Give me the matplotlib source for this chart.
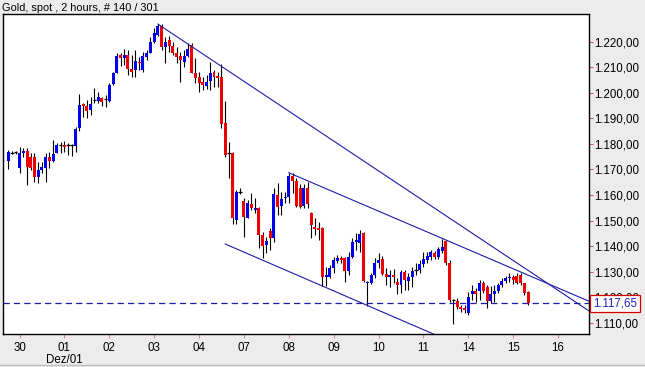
import matplotlib
matplotlib.use('Agg')
import matplotlib.pyplot as plt
from matplotlib.lines import Line2D

plt.rcParams['font.family'] = ['Liberation Sans', 'DejaVu Sans']

# 2h candles, Gold spot (140 bars visible)
opens = [1173.4, 1176.6, 1176.8, 1170.4, 1176.3, 1177.2, 1174.7, 1174.7, 1167.2, 1169.8,
         1170.4, 1174.7, 1173.4, 1176.3, 1179.5, 1179.6, 1179.4, 1179.4, 1179.2, 1186.1,
         1195.6, 1194.8, 1193.3, 1197.3, 1196.9, 1197.8, 1197.4, 1196.9, 1203.4, 1207.9,
         1214.8, 1213.5, 1214.8, 1209.3, 1208.9, 1212.2, 1208.9, 1214.1, 1215.7, 1220.0,
         1222.6, 1226.1, 1217.8, 1220.7, 1218.3, 1215.7, 1214.4, 1212.2, 1214.4, 1218.7,
         1207.6, 1206.1, 1204.3, 1202.7, 1204.7, 1208.3, 1206.6, 1206.1, 1188.2, 1176.6,
         1176.3, 1150.2, 1161.3, 1157.8, 1151.1, 1156.3, 1154.1, 1155.0, 1144.3, 1140.4,
         1145.9, 1143.0, 1160.0, 1155.7, 1158.7, 1159.3, 1167.4, 1165.6, 1162.6, 1155.7,
         1162.6, 1152.8, 1147.6, 1147.0, 1147.0, 1127.8, 1127.8, 1131.3, 1134.3, 1135.4,
         1135.2, 1130.4, 1135.8, 1141.7, 1141.1, 1145.2, 1125.6, 1125.4, 1128.7, 1133.5,
         1134.8, 1129.1, 1127.8, 1128.7, 1126.0, 1124.8, 1130.0, 1126.4, 1127.8, 1130.5,
         1130.6, 1133.0, 1134.5, 1135.6, 1137.4, 1135.6, 1138.2, 1142.1, 1133.5, 1118.9,
         1118.6, 1116.0, 1115.9, 1113.8, 1121.2, 1122.5, 1122.5, 1125.7, 1123.9, 1118.6,
         1121.2, 1122.5, 1124.8, 1126.4, 1127.4, 1127.8, 1128.3, 1128.7, 1125.4, 1122.1]
highs = [1177.6, 1177.2, 1177.4, 1178.9, 1178.4, 1178.4, 1176.3, 1176.4, 1173.0, 1173.0,
         1176.3, 1177.0, 1181.5, 1180.5, 1180.9, 1181.1, 1180.2, 1180.0, 1186.7, 1199.4,
         1195.9, 1197.2, 1198.5, 1201.8, 1200.4, 1198.5, 1199.1, 1203.7, 1208.3, 1215.7,
         1215.7, 1217.0, 1216.8, 1214.8, 1216.8, 1213.9, 1216.1, 1216.8, 1222.0, 1225.2,
         1226.9, 1226.9, 1222.0, 1222.2, 1220.0, 1218.0, 1216.1, 1216.8, 1219.4, 1219.4,
         1213.5, 1208.3, 1206.3, 1207.0, 1212.2, 1208.9, 1208.3, 1211.3, 1196.8, 1180.9,
         1176.8, 1162.0, 1162.7, 1158.7, 1158.0, 1160.9, 1158.7, 1155.4, 1145.6, 1143.7,
         1146.9, 1162.6, 1164.6, 1161.3, 1161.3, 1168.7, 1168.7, 1166.5, 1164.3, 1164.3,
         1165.1, 1153.4, 1150.9, 1149.4, 1147.6, 1131.9, 1132.6, 1135.8, 1136.5, 1136.1,
         1135.8, 1137.8, 1143.0, 1145.0, 1146.3, 1145.6, 1126.5, 1129.3, 1135.2, 1137.2,
         1136.1, 1131.3, 1130.6, 1130.9, 1127.4, 1130.6, 1130.6, 1129.3, 1131.9, 1133.3,
         1134.5, 1137.8, 1137.8, 1138.5, 1138.2, 1139.8, 1142.6, 1142.4, 1134.5, 1119.2,
         1119.5, 1116.9, 1116.9, 1122.1, 1124.8, 1123.5, 1126.7, 1126.4, 1124.8, 1124.4,
         1124.8, 1125.4, 1127.4, 1128.3, 1129.3, 1128.7, 1129.3, 1129.6, 1125.7, 1122.5]
lows = [1170.2, 1176.2, 1176.0, 1168.5, 1175.0, 1163.9, 1169.8, 1165.2, 1164.8, 1168.5,
        1165.2, 1170.4, 1173.0, 1176.3, 1176.3, 1176.7, 1175.6, 1175.3, 1177.0, 1185.0,
        1190.6, 1190.0, 1191.3, 1196.1, 1195.9, 1194.8, 1194.6, 1196.5, 1203.0, 1207.6,
        1210.5, 1210.9, 1207.0, 1206.1, 1206.3, 1208.9, 1208.3, 1212.8, 1215.5, 1219.4,
        1222.2, 1216.8, 1211.5, 1216.1, 1214.8, 1211.5, 1204.3, 1210.2, 1214.0, 1207.6,
        1203.7, 1200.4, 1201.1, 1201.4, 1201.1, 1202.2, 1202.2, 1186.1, 1174.9, 1166.5,
        1148.6, 1148.6, 1160.4, 1143.7, 1150.9, 1154.1, 1152.8, 1139.1, 1135.2, 1137.2,
        1138.5, 1141.7, 1152.2, 1152.2, 1156.7, 1156.7, 1160.7, 1155.4, 1155.0, 1155.0,
        1155.0, 1143.0, 1144.3, 1142.4, 1124.4, 1124.4, 1127.4, 1129.3, 1133.3, 1133.4,
        1126.0, 1128.7, 1135.2, 1138.5, 1137.8, 1126.0, 1116.5, 1125.2, 1127.4, 1131.3,
        1128.7, 1124.8, 1124.1, 1125.4, 1121.2, 1121.7, 1122.8, 1122.8, 1124.1, 1128.7,
        1129.3, 1131.9, 1133.3, 1134.5, 1134.8, 1134.8, 1137.4, 1132.6, 1118.2, 1109.5,
        1115.2, 1114.3, 1113.7, 1113.0, 1118.9, 1118.2, 1118.9, 1121.7, 1115.6, 1117.6,
        1118.2, 1121.7, 1124.1, 1125.4, 1126.0, 1125.2, 1125.2, 1124.8, 1120.8, 1117.0]
closes = [1177.0, 1176.8, 1176.6, 1176.3, 1177.2, 1171.1, 1170.4, 1167.2, 1169.8, 1171.1,
          1175.0, 1173.4, 1175.9, 1179.6, 1179.6, 1178.9, 1179.4, 1179.5, 1185.7, 1195.2,
          1194.8, 1193.0, 1195.6, 1197.4, 1198.5, 1196.5, 1197.5, 1203.1, 1207.9, 1214.4,
          1213.5, 1214.8, 1209.2, 1208.3, 1212.6, 1211.5, 1214.4, 1215.7, 1220.0, 1223.3,
          1226.1, 1218.0, 1220.0, 1218.3, 1215.7, 1213.9, 1212.8, 1214.4, 1217.0, 1207.9,
          1205.7, 1204.0, 1203.0, 1204.3, 1207.9, 1206.1, 1205.9, 1187.8, 1175.7, 1176.4,
          1150.9, 1161.3, 1161.4, 1151.5, 1157.0, 1155.0, 1154.9, 1144.3, 1140.0, 1142.0,
          1143.0, 1160.3, 1155.4, 1158.3, 1159.3, 1167.4, 1165.6, 1155.7, 1155.4, 1162.6,
          1156.5, 1148.2, 1146.8, 1146.3, 1128.0, 1128.6, 1131.3, 1134.5, 1135.4, 1134.5,
          1130.4, 1135.8, 1141.7, 1142.4, 1144.7, 1126.4, 1126.1, 1128.7, 1133.5, 1134.5,
          1129.1, 1127.8, 1128.7, 1127.8, 1124.8, 1130.0, 1126.7, 1127.8, 1130.4, 1130.6,
          1133.0, 1134.8, 1136.1, 1137.8, 1135.6, 1138.7, 1139.8, 1133.5, 1118.9, 1118.7,
          1116.0, 1115.2, 1115.1, 1120.0, 1122.5, 1121.2, 1125.7, 1122.5, 1118.6, 1121.2,
          1122.5, 1124.8, 1126.4, 1127.4, 1128.0, 1126.7, 1125.4, 1125.7, 1121.7, 1117.65]

day_labels = ['30', '01', '02', '03', '04', '07', '08', '09', '10', '11', '14', '15', '16']
month_label = 'Dez/01'
last_price = 1117.65
y_ticks = [1110, 1120, 1130, 1140, 1150, 1160, 1170, 1180, 1190, 1200, 1210, 1220]

# trend lines: (bar index, price) start / end
trend_lines = [
    [(40, 1226.9), (156, 1113.9)],
    [(75, 1168.7), (156, 1117.95)],
    [(58, 1140.8), (116, 1104.1)],
]


def de_fmt(v):
    # 1,220.00 -> 1.220,00
    return '{:,.2f}'.format(v).replace(',', 'X').replace('.', ',').replace('X', '.')


W, H = 645, 367
fig = plt.figure(figsize=(W / 100, H / 100), dpi=100)
fig.patch.set_facecolor('#ECECEC')
ax = fig.add_axes([3 / W, 1 - 334 / H, 586 / W, 320 / H])
ax.set_facecolor('white')

blue = '#0000EE'
red = '#EE0000'
line_col = '#1C1CA8'

for i in range(len(opens)):
    o, h, l, c = opens[i], highs[i], lows[i], closes[i]
    ax.vlines(i, l, h, color='black', lw=0.8, zorder=2)
    if abs(c - o) < 0.25:
        ax.hlines(o, i - 0.45, i + 0.45, color='black', lw=0.9, zorder=3)
    else:
        col = blue if c > o else red
        ax.bar(i, max(abs(c - o), 0.4), bottom=min(o, c), width=0.8,
               color=col, linewidth=0, zorder=3)

for (x0, y0), (x1, y1) in trend_lines:
    ax.plot([x0, x1], [y0, y1], color=line_col, lw=0.8, zorder=4)

ax.axhline(last_price, color=line_col, lw=0.9, ls=(0, (5, 3.3)), zorder=4)

ax.set_xlim(-1.42, 155.27)
ax.set_ylim(1105.58, 1230.84)

tick_pos = [3 + 12 * k for k in range(len(day_labels))]
ax.set_xticks(tick_pos)
ax.set_xticklabels(day_labels, fontsize=8.3)
ax.tick_params(axis='x', direction='out', length=3, width=0.8, color='#E08A8A', pad=2.5)

ax.yaxis.tick_right()
ax.set_yticks(y_ticks)
ax.set_yticklabels([de_fmt(v) for v in y_ticks], fontsize=8.3)
ax.tick_params(axis='y', direction='out', length=3, width=0.8, color='#D06060', pad=1)

for s in ax.spines.values():
    s.set_color('black')
    s.set_linewidth(1.0)

ax.annotate(month_label, xy=(tick_pos[1], 0), xycoords=('data', 'axes fraction'),
            xytext=(0, -26), textcoords='offset pixels', ha='center', va='center', fontsize=8.3)

ax.annotate(de_fmt(last_price), xy=(1, last_price), xycoords=('axes fraction', 'data'),
            xytext=(4, 0), textcoords='offset pixels', ha='left', va='center',
            fontsize=8.3, color='#2020C0', zorder=10, annotation_clip=False,
            bbox=dict(boxstyle='square,pad=0.22', fc='white', ec='#D00000', lw=0.9))

fig.text(2 / W, 1 - 8 / H, 'Gold, spot , 2 hours, # 140 / 301', fontsize=7.9,
         ha='left', va='center')

fig.add_artist(Line2D([0, 1], [1 - 365 / H, 1 - 365 / H], color='#BDBDBD', lw=1))

fig.savefig('out.png', dpi=100, facecolor=fig.get_facecolor())
